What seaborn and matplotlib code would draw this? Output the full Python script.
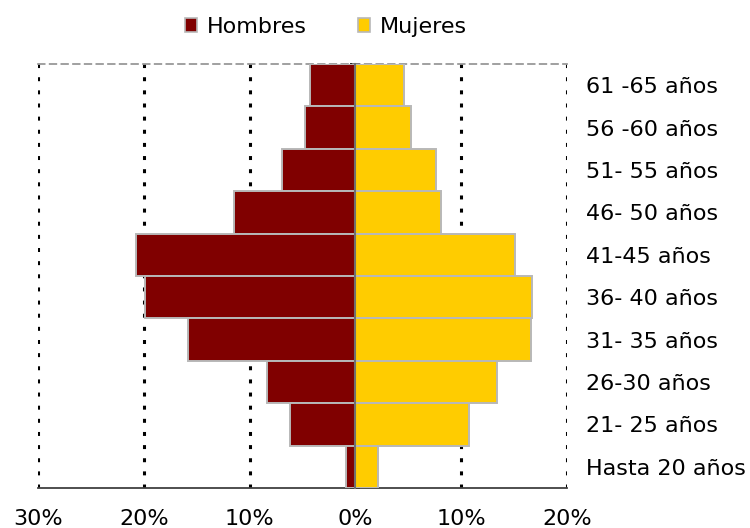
import matplotlib
matplotlib.use("Agg")
import matplotlib.pyplot as plt
import seaborn as sns
import pandas as pd
import numpy as np
from matplotlib.ticker import FuncFormatter, FixedLocator
from matplotlib.patches import Patch

categories = ["61 -65 años", "56 -60 años", "51- 55 años", "46- 50 años", "41-45 años",
              "36- 40 años", "31- 35 años", "26-30 años", "21- 25 años", "Hasta 20 años"]
hombres = [4.3, 4.8, 6.9, 11.5, 20.7, 19.9, 15.8, 8.4, 6.2, 0.9]
mujeres = [4.55, 5.3, 7.6, 8.1, 15.1, 16.7, 16.6, 13.4, 10.7, 2.1]
xticks = [-30, -20, -10, 0, 10, 20]

sns.set_style("white")
plt.rcParams['font.family'] = ['DejaVu Sans']
plt.rcParams['text.color'] = 'black'
plt.rcParams['xtick.labelcolor'] = 'black'
plt.rcParams['ytick.labelcolor'] = 'black'

df = pd.DataFrame({
    "Edad": categories * 2,
    "Valor": [-v for v in hombres] + mujeres,
    "Sexo": ["Hombres"] * len(categories) + ["Mujeres"] * len(categories),
})

colors = {"Hombres": "#800000", "Mujeres": "#ffcc00"}

fig = plt.figure(figsize=(7.5, 5.28), dpi=100)
ax = fig.add_axes([38/750, 1-488/528, (567-38)/750, (488-64)/528])

sns.barplot(data=df, x="Valor", y="Edad", hue="Sexo", order=categories,
            palette=colors, saturation=1, dodge=False, width=1.0, orient="h",
            edgecolor="#b8b8b8", linewidth=1.4, ax=ax, legend=False, zorder=3)

ax.set_xlim(-30, 20)
ax.set_ylim(len(categories) - 0.5, -0.5)
ax.set_xlabel("")
ax.set_ylabel("")

# grid
ax.xaxis.set_major_locator(FixedLocator(xticks))
ax.xaxis.set_major_formatter(FuncFormatter(lambda v, p: f"{abs(int(v))}%"))
ax.grid(axis="x", color="black", linestyle=(0, (1.3, 3.0)), linewidth=2.2, zorder=0)
ax.grid(axis="y", visible=False)
ax.set_axisbelow(True)

# spines
ax.spines["left"].set_position(("data", 0))
ax.spines["left"].set_color("#707070")
ax.spines["left"].set_linewidth(1.5)
ax.spines["left"].set_zorder(4)
ax.spines["right"].set_visible(False)
ax.spines["top"].set_color("#909090")
ax.spines["top"].set_linestyle((0, (4, 3)))
ax.spines["top"].set_linewidth(1.2)
ax.spines["bottom"].set_color("#404040")
ax.spines["bottom"].set_linewidth(1.3)

ax.tick_params(axis="x", which="major", direction="inout", length=8, width=1.2,
               color="#404040", labelsize=16, pad=11, labelcolor="black")
ax.set_yticks(range(len(categories)))
ax.set_yticklabels(categories)
ax.set_yticks(np.arange(-0.5, len(categories), 1.0), minor=True)
ax.tick_params(axis="y", which="major", left=True, right=False, labelleft=False,
               labelright=True, direction="out", length=4, width=1.2, color="black",
               labelsize=16, pad=10, labelcolor="black")
ax.tick_params(axis="y", which="minor", left=True, right=False, direction="inout",
               length=7, width=1.2, color="black")

handles = [Patch(facecolor=colors[k], edgecolor="#b8b8b8", linewidth=1.2, label=k)
           for k in ["Hombres", "Mujeres"]]
fig.legend(handles=handles, loc="center", bbox_to_anchor=(326/750, 1-27/528),
           ncol=2, frameon=False, fontsize=16, handlelength=0.55, handleheight=0.55,
           handletextpad=0.45, columnspacing=2.3)

fig.savefig("out.png", dpi=100)
